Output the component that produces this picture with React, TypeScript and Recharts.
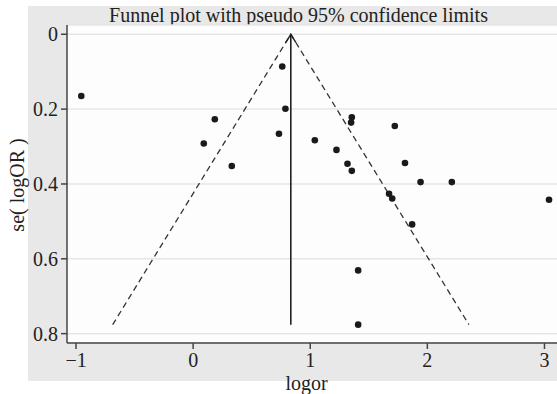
import React from 'react';
import { ScatterChart, Scatter, XAxis, YAxis, CartesianGrid } from 'recharts';

const logorValues = [-0.955, 0.185, 0.761, 0.788, 1.355, 1.349, 1.722, 0.091, 0.733, 0.33, 1.039, 1.224, 1.318, 1.355, 1.809, 1.942, 2.209, 1.673, 1.7, 3.039, 1.87, 1.409, 1.409];
const seValues = [0.165, 0.227, 0.086, 0.199, 0.222, 0.236, 0.245, 0.292, 0.266, 0.352, 0.283, 0.309, 0.346, 0.365, 0.344, 0.395, 0.395, 0.426, 0.439, 0.442, 0.508, 0.631, 0.776];
const xTicks = [-1, 0, 1, 2, 3];
const yTicks = [0, 0.2, 0.4, 0.6, 0.8];
const pooledLogor = 0.834;
const maxSe = 0.776;
const zCrit = 1.96;

const points = logorValues.map((x, i) => ({ x, y: seValues[i] }));
const funnelLines = [
  { x: pooledLogor - zCrit * maxSe, y: maxSe },
  { x: pooledLogor, y: 0 },
  { x: pooledLogor + zCrit * maxSe, y: maxSe },
];
const pooledLine = [
  { x: pooledLogor, y: 0, tip: true },
  { x: pooledLogor, y: maxSe, tip: false },
];

const FONT = '"Liberation Serif", "Times New Roman", serif';
const INK = '#222';
const AXIS = '#444';
const FS = 20;

const Dot = (p: any) => <circle cx={p.cx} cy={p.cy} r={3.3} fill="#1a1a1a" />;
const Empty = () => <g />;
const Arrow = (p: any) =>
  p.payload && p.payload.tip ? (
    <polyline
      points={`${p.cx - 5},${p.cy + 8} ${p.cx},${p.cy} ${p.cx + 5},${p.cy + 8}`}
      fill="none"
      stroke="#222"
      strokeWidth={1.4}
    />
  ) : (
    <g />
  );

const fmtX = (v: number) => (v < 0 ? '\u2212' + Math.abs(v) : String(v));

export default function App() {
  return (
    <div style={{ position: 'absolute', left: 0, top: 0, width: 557, height: 394, background: '#fff', fontFamily: FONT }}>
      <div style={{ position: 'absolute', left: 28, top: 6, width: 529, height: 375, background: '#e8e8e8' }} />
      <div
        style={{
          position: 'absolute',
          left: 0,
          top: 5,
          width: 597,
          textAlign: 'center',
          fontSize: FS,
          lineHeight: '20px',
          color: INK,
          fontFamily: FONT,
          whiteSpace: 'nowrap',
        }}
      >
        Funnel plot with pseudo 95% confidence limits
      </div>
      <div style={{ position: 'absolute', left: 0, top: 0 }}>
        <ScatterChart width={557} height={394} margin={{ top: 25, right: 0, bottom: 0, left: 0 }} style={{ fontFamily: FONT }}>
          <CartesianGrid vertical={false} stroke="#e6e6e6" strokeWidth={1.5} fill="#fdfdfd" />
          <XAxis
            type="number"
            dataKey="x"
            domain={[-1.077, 3.107]}
            ticks={xTicks}
            allowDataOverflow
            height={51}
            tickSize={6}
            tickMargin={4}
            tickFormatter={fmtX}
            axisLine={{ stroke: AXIS, strokeWidth: 1.5 }}
            tickLine={{ stroke: AXIS, strokeWidth: 1.5 }}
            tick={{ fontSize: FS, fill: INK, fontFamily: FONT }}
            label={{
              content: () => (
                <text x={306.5} y={390} textAnchor="middle" fontSize={FS} fill={INK} fontFamily={FONT}>
                  logor
                </text>
              ),
            }}
          />
          <YAxis
            type="number"
            dataKey="y"
            domain={[-0.0248, 0.825]}
            reversed
            ticks={yTicks}
            allowDataOverflow
            width={67}
            tickSize={6}
            tickMargin={3}
            axisLine={{ stroke: AXIS, strokeWidth: 1.5 }}
            tickLine={{ stroke: AXIS, strokeWidth: 1.5 }}
            tick={{ fontSize: FS, fill: INK, fontFamily: FONT }}
            label={{
              content: () => (
                <text
                  x={24}
                  y={185}
                  transform="rotate(-90 24 185)"
                  textAnchor="middle"
                  fontSize={FS}
                  fill={INK}
                  fontFamily={FONT}
                >
                  se( logOR )
                </text>
              ),
            }}
          />
          <Scatter
            data={funnelLines}
            line={{ stroke: '#333', strokeWidth: 1.3, strokeDasharray: '6 4' }}
            shape={Empty}
            isAnimationActive={false}
          />
          <Scatter
            data={pooledLine}
            line={{ stroke: '#222', strokeWidth: 1.6 }}
            shape={Arrow}
            isAnimationActive={false}
          />
          <Scatter data={points} shape={Dot} isAnimationActive={false} />
        </ScatterChart>
      </div>
    </div>
  );
}
